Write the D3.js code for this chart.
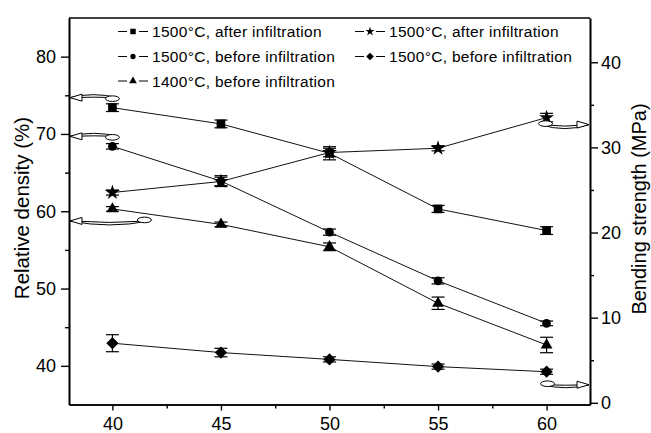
<!DOCTYPE html>
<html lang="en">
<head>
<meta charset="UTF-8">
<title>Relative density and bending strength</title>
<script src="https://d3js.org/d3.v7.min.js"></script>
<style>
  body { margin: 0; background: #fff; }
  svg text { font-family: "Liberation Sans", Arial, sans-serif; fill: #000; }
</style>
</head>
<body>
<svg width="651" height="433"></svg>
<script>
// x: content (wt%)
const contents = [40, 45, 50, 55, 60];

// left axis - relative density (%)
const sqAfter1500 = [73.4, 71.3, 67.5, 60.3, 57.5];
const sqAfter1500Err = [0.5, 0.5, 0.85, 0.45, 0.5];
const ciBefore1500 = [68.4, 63.9, 57.3, 51.0, 45.5];
const ciBefore1500Err = [0.35, 0.7, 0.4, 0.4, 0.3];
const triBefore1400 = [60.3, 58.3, 55.4, 48.1, 42.7];
const triBefore1400Err = [0.3, 0.3, 0.5, 0.8, 1.0];

// right axis - bending strength (MPa)
const starAfter1500 = [24.7, 26.0, 29.4, 29.9, 33.5];
const starAfter1500Err = [0.3, 0.5, 0.5, 0.3, 0.5];
const diaBefore1500 = [7.0, 5.9, 5.1, 4.25, 3.65];
const diaBefore1500Err = [1.0, 0.5, 0.3, 0.3, 0.3];

const xTicks = [40, 45, 50, 55, 60];
const xMinor = [42.5, 47.5, 52.5, 57.5];
const leftTicks = [40, 50, 60, 70, 80];
const leftMinor = [45, 55, 65, 75];
const rightTicks = [0, 10, 20, 30, 40];
const rightMinor = [5, 15, 25, 35];

const legendLabels = [
  "1500°C, after infiltration", "1500°C, before infiltration", "1400°C, before infiltration",
  "1500°C, after infiltration", "1500°C, before infiltration"
];

const svg = d3.select("svg");
const margin = { left: 69, right: 590, top: 18, bottom: 404.5 };

const x = d3.scaleLinear().domain([38, 62]).range([margin.left, margin.right]);
const yL = d3.scaleLinear().domain([35, 85]).range([margin.bottom, margin.top]);
const yR = d3.scaleLinear().domain([-0.2, 45.2]).range([margin.bottom, margin.top]);

// square rotated 45deg for the diamond marker
const diamondSym = { draw(ctx, size) { const r = Math.sqrt(size / 2); ctx.moveTo(0, -r); ctx.lineTo(r, 0); ctx.lineTo(0, r); ctx.lineTo(-r, 0); ctx.closePath(); } };

const series = [
  { vals: sqAfter1500, err: sqAfter1500Err, y: yL, sym: d3.symbolSquare, size: 75, lsize: 30 },
  { vals: ciBefore1500, err: ciBefore1500Err, y: yL, sym: d3.symbolCircle, size: 60, lsize: 22 },
  { vals: triBefore1400, err: triBefore1400Err, y: yL, sym: d3.symbolTriangle, size: 60, lsize: 26 },
  { vals: starAfter1500, err: starAfter1500Err, y: yR, sym: d3.symbolStar, size: 70, lsize: 26 },
  { vals: diaBefore1500, err: diaBefore1500Err, y: yR, sym: diamondSym, size: 75, lsize: 30 }
];

// axes
svg.append("g")
  .attr("transform", `translate(0,${margin.bottom})`)
  .call(d3.axisBottom(x).tickValues(xTicks).tickSize(6).tickPadding(7).tickSizeOuter(0));
svg.append("g")
  .attr("transform", `translate(0,${margin.bottom})`)
  .call(d3.axisBottom(x).tickValues(xMinor).tickSize(4).tickFormat("").tickSizeOuter(0));
svg.append("g")
  .attr("transform", `translate(${margin.left},0)`)
  .call(d3.axisLeft(yL).tickValues(leftTicks).tickSize(8).tickPadding(5).tickSizeOuter(0));
svg.append("g")
  .attr("transform", `translate(${margin.left},0)`)
  .call(d3.axisLeft(yL).tickValues(leftMinor).tickSize(4).tickFormat("").tickSizeOuter(0));
svg.append("g")
  .attr("transform", `translate(${margin.right},0)`)
  .call(d3.axisRight(yR).tickValues(rightTicks).tickSize(8).tickPadding(3).tickSizeOuter(0));
svg.append("g")
  .attr("transform", `translate(${margin.right},0)`)
  .call(d3.axisRight(yR).tickValues(rightMinor).tickSize(4).tickFormat("").tickSizeOuter(0));

svg.selectAll(".domain").attr("stroke-width", 1.6);
svg.selectAll(".tick line").attr("stroke-width", 1.4);
svg.selectAll(".tick text").attr("font-size", 18).attr("font-family", "Liberation Sans, Arial, sans-serif");

// top border
svg.append("line")
  .attr("x1", margin.left).attr("x2", margin.right).attr("y1", margin.top).attr("y2", margin.top)
  .attr("stroke", "#000").attr("stroke-width", 1.6);

// axis titles
svg.append("text")
  .attr("transform", "translate(29,208) rotate(-90)")
  .attr("text-anchor", "middle").attr("font-size", 20.5)
  .text("Relative density (%)");
svg.append("text")
  .attr("transform", "translate(646,209) rotate(-90)")
  .attr("text-anchor", "middle").attr("font-size", 20)
  .text("Bending strength (MPa)");

// series lines, error bars, markers
const plot = svg.append("g");
series.forEach(s => {
  const pts = contents.map((c, i) => ({ c, v: s.vals[i], e: s.err[i] }));
  plot.append("path")
    .datum(pts)
    .attr("fill", "none").attr("stroke", "#111").attr("stroke-width", 1)
    .attr("d", d3.line().x(d => x(d.c)).y(d => s.y(d.v)));

  const eb = plot.append("g").selectAll("g").data(pts).join("g");
  eb.append("line")
    .attr("x1", d => x(d.c)).attr("x2", d => x(d.c))
    .attr("y1", d => s.y(d.v - d.e)).attr("y2", d => s.y(d.v + d.e))
    .attr("stroke", "#000").attr("stroke-width", 1.2);
  [-1, 1].forEach(k => {
    eb.append("line")
      .attr("x1", d => x(d.c) - 6.5).attr("x2", d => x(d.c) + 6.5)
      .attr("y1", d => s.y(d.v + k * d.e)).attr("y2", d => s.y(d.v + k * d.e))
      .attr("stroke", "#000").attr("stroke-width", 1.2);
  });

  plot.append("g").selectAll("path").data(pts).join("path")
    .attr("transform", d => `translate(${x(d.c)},${s.y(d.v)})`)
    .attr("d", d3.symbol(s.sym, s.size))
    .attr("fill", "#000");
});

// curly arrows pointing to the axis each curve belongs to
function curlyArrow(xTail, xHead, yb, bend) {
  const g = svg.append("g").attr("fill", "#fff").attr("stroke", "#000").attr("stroke-width", 1);
  const xm = (xTail + xHead) / 2;
  const p = d3.path();
  p.moveTo(xTail, yb);
  p.quadraticCurveTo(xm, yb + bend * 2, xHead, yb);
  p.quadraticCurveTo(xm, yb + bend * 2 - Math.sign(bend) * 5, xTail, yb);
  p.closePath();
  g.append("path").attr("d", p.toString());
  const dir = Math.sign(xTail - xHead);
  g.append("ellipse")
    .attr("cx", xTail - dir * 5).attr("cy", yb - Math.sign(bend) * 1)
    .attr("rx", 7).attr("ry", 2.8);
  g.append("path")
    .attr("d", `M${xHead + dir * 12},${yb - 3.5}L${xHead},${yb}L${xHead + dir * 12},${yb + 3.5}Z`);
}
curlyArrow(x(40) + 5, margin.left + 1, yL(sqAfter1500[0]) - 10, -3);
curlyArrow(x(40) + 5, margin.left + 1, yL(ciBefore1500[0]) - 10, -3);
curlyArrow(x(40) + 37, margin.left + 1, yL(triBefore1400[0]) + 12, 4);
curlyArrow(x(60) - 6, margin.right - 1, yR(starAfter1500[4]) + 7, 4);
curlyArrow(x(60) - 4, margin.right - 1, yR(diaBefore1500[4]) + 13, 3);

// legend
const legendPos = [
  { lx: 118, ly: 31.5 }, { lx: 118, ly: 56.5 }, { lx: 118, ly: 81 },
  { lx: 355, ly: 31.5 }, { lx: 355, ly: 56.5 }
];
const legend = svg.append("g");
series.forEach((s, i) => {
  const p = legendPos[i];
  const g = legend.append("g").attr("transform", `translate(${p.lx},${p.ly})`);
  g.append("line").attr("x1", 0).attr("x2", 9).attr("stroke", "#000").attr("stroke-width", 1);
  g.append("line").attr("x1", 21).attr("x2", 30).attr("stroke", "#000").attr("stroke-width", 1);
  g.append("path").attr("transform", "translate(15,0)")
    .attr("d", d3.symbol(s.sym, s.lsize)).attr("fill", "#000");
  g.append("text").attr("x", 34).attr("y", 5.5).attr("font-size", 15.5)
    .attr("letter-spacing", 0.3).text(legendLabels[i]);
});
</script>
</body>
</html>
